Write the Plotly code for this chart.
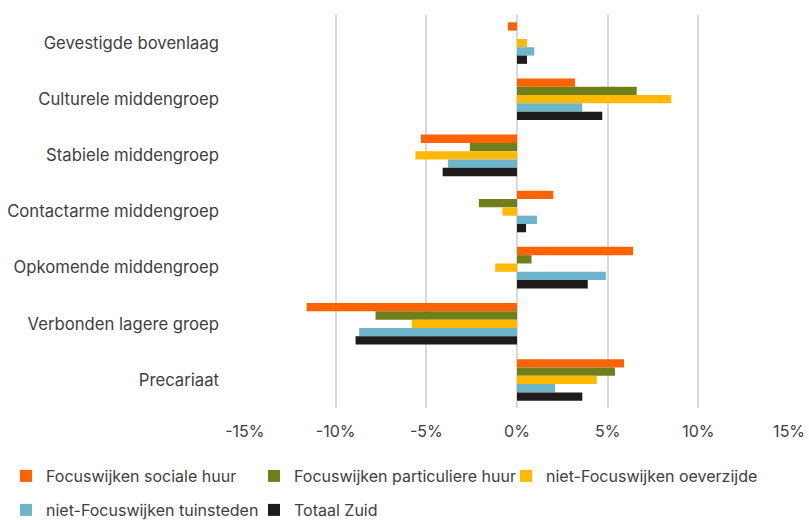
import plotly.graph_objects as go

categories = [
    "Gevestigde bovenlaag",
    "Culturele middengroep",
    "Stabiele middengroep",
    "Contactarme middengroep",
    "Opkomende middengroep",
    "Verbonden lagere groep",
    "Precariaat",
]

# values in percent, one list per series
sociale_huur = [-0.5, 3.2, -5.3, 2.0, 6.4, -11.6, 5.9]
particuliere_huur = [0.0, 6.6, -2.6, -2.1, 0.8, -7.8, 5.4]
oeverzijde = [0.55, 8.5, -5.6, -0.8, -1.2, -5.8, 4.4]
tuinsteden = [0.95, 3.6, -3.8, 1.1, 4.9, -8.7, 2.1]
totaal_zuid = [0.55, 4.7, -4.1, 0.5, 3.9, -8.9, 3.6]

series_names = [
    "Focuswijken sociale huur",
    "Focuswijken particuliere huur",
    "niet-Focuswijken oeverzijde",
    "niet-Focuswijken tuinsteden",
    "Totaal Zuid",
]
series_values = [sociale_huur, particuliere_huur, oeverzijde, tuinsteden, totaal_zuid]
colors = ["#FF6200", "#6F7F1A", "#FFB900", "#6CB5CA", "#1F1B1B"]

tick_vals = [-15, -10, -5, 0, 5, 10, 15]
tick_text = ["-15%", "-10%", "-5%", "0%", "5%", "10%", "15%"]

font_family = "Inter"
text_color = "#404040"

# one single-entry legend per series, placed like the two legend rows of the original
legend_ids = ["legend", "legend2", "legend3", "legend4", "legend5"]
legend_x = [6, 254, 506, 6, 254]       # px from left of the page
legend_y = [476, 476, 476, 510, 510]   # px from top of the page

fig = go.Figure()
for name, vals, col, lg in zip(series_names, series_values, colors, legend_ids):
    fig.add_trace(go.Bar(
        y=categories, x=vals, name=name, orientation="h",
        marker=dict(color=col, line=dict(width=0)),
        legend=lg, showlegend=True,
    ))

W, H = 809, 520
legends = {}
for lg, lx, ly in zip(legend_ids, legend_x, legend_y):
    legends[lg] = dict(
        orientation="h", xanchor="left", yanchor="middle",
        xref="container", yref="container",
        x=lx / W, y=(H - ly) / H,
        font=dict(size=16, color=text_color),
        itemwidth=30, bgcolor="rgba(0,0,0,0)",
    )

fig.update_layout(
    width=W, height=H,
    showlegend=True,
    barmode="group", bargap=0.26, bargroupgap=0,
    plot_bgcolor="white", paper_bgcolor="white",
    margin=dict(l=244, r=19, t=15, b=112),
    font=dict(family=font_family, size=16, color=text_color),
    xaxis=dict(
        range=[-15.05, 15.05], tickvals=tick_vals, ticktext=tick_text,
        showgrid=True, gridcolor="#d9d9d9", gridwidth=2,
        zeroline=True, zerolinecolor="#d9d9d9", zerolinewidth=2,
        showline=False, ticks="", automargin=False,
        ticklabelstandoff=12, ticklabeloverflow="allow",
        tickfont=dict(size=16),
    ),
    yaxis=dict(
        autorange="reversed", showgrid=False, ticks="", automargin=False,
        ticklabelstandoff=24, tickfont=dict(size=16.7),
    ),
    **legends,
)

# drop the default page margin so the 809x520 figure fills the window
fig.write_html(
    "out.html",
    config={"displayModeBar": False},
    post_script="document.body.style.margin = '0';",
)
